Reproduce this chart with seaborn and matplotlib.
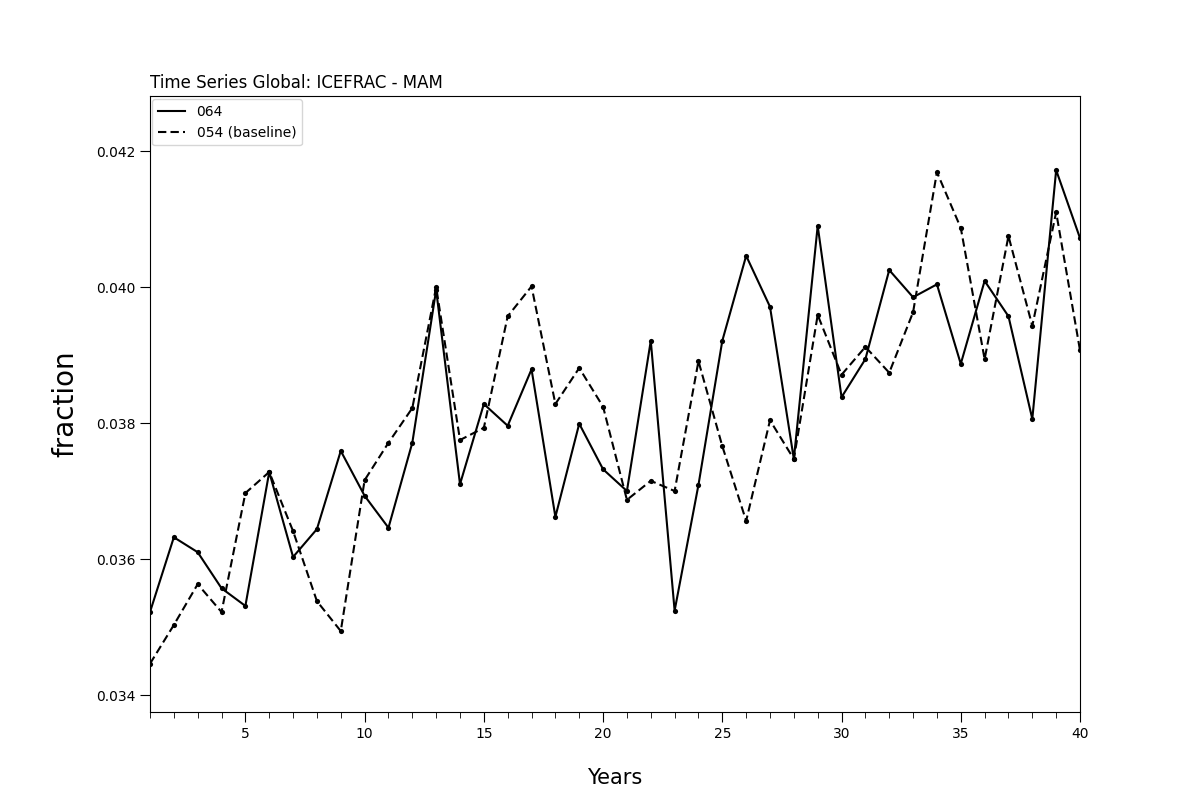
import matplotlib
matplotlib.use("Agg")
import matplotlib.pyplot as plt
import seaborn as sns
import pandas as pd
from matplotlib.ticker import MultipleLocator

years = list(range(1, 41))

icefrac_064 = [
    0.03522, 0.03632, 0.03610, 0.03557, 0.03531, 0.03728, 0.03603, 0.03644,
    0.03759, 0.03693, 0.03646, 0.03771, 0.03996, 0.03710, 0.03828, 0.03796,
    0.03879, 0.03662, 0.03799, 0.03732, 0.03700, 0.03921, 0.03524, 0.03709,
    0.03921, 0.04046, 0.03971, 0.03747, 0.04090, 0.03838, 0.03894, 0.04025,
    0.03985, 0.04004, 0.03887, 0.04009, 0.03957, 0.03806, 0.04172, 0.04072,
]

icefrac_054 = [
    0.03446, 0.03503, 0.03563, 0.03522, 0.03697, 0.03728, 0.03641, 0.03538,
    0.03494, 0.03716, 0.03771, 0.03822, 0.04000, 0.03775, 0.03793, 0.03957,
    0.04001, 0.03828, 0.03881, 0.03824, 0.03687, 0.03715, 0.03700, 0.03891,
    0.03766, 0.03656, 0.03804, 0.03747, 0.03959, 0.03871, 0.03912, 0.03874,
    0.03963, 0.04169, 0.04087, 0.03894, 0.04075, 0.03943, 0.04110, 0.03907,
]

df = pd.DataFrame({
    'year': years * 2,
    'value': icefrac_064 + icefrac_054,
    'run': ['064'] * 40 + ['054 (baseline)'] * 40,
})

fig, ax = plt.subplots(figsize=(12, 8), dpi=100)
fig.subplots_adjust(left=0.125, right=0.9, top=0.88, bottom=0.11)

sns.lineplot(data=df, x='year', y='value', style='run',
             style_order=['064', '054 (baseline)'],
             dashes={'064': '', '054 (baseline)': (4, 2)},
             color='black', linewidth=1.5, ax=ax)
# the little dots at each year
sns.scatterplot(data=df, x='year', y='value', color='black', s=14,
                edgecolor='black', linewidth=0, ax=ax, legend=False)

ax.set_xlim(1, 40)
ax.set_ylim(0.03375, 0.04281)
ax.xaxis.set_major_locator(MultipleLocator(5))
ax.xaxis.set_minor_locator(MultipleLocator(1))
ax.yaxis.set_major_locator(MultipleLocator(0.002))
ax.tick_params(axis='both', which='major', length=7)
ax.tick_params(axis='x', which='minor', length=4)

ax.set_title('Time Series Global: ICEFRAC - MAM', loc='left', fontsize=12)
ax.set_xlabel('Years', fontsize=15, labelpad=19.5)
ax.set_ylabel('fraction', fontsize=20, labelpad=12)

ax.legend(loc='upper left', fontsize=10, borderaxespad=0.15)
leg = ax.get_legend()
leg.set_bbox_to_anchor((0.0, 0.998))

plt.savefig('out.png', dpi=100)
plt.close()
